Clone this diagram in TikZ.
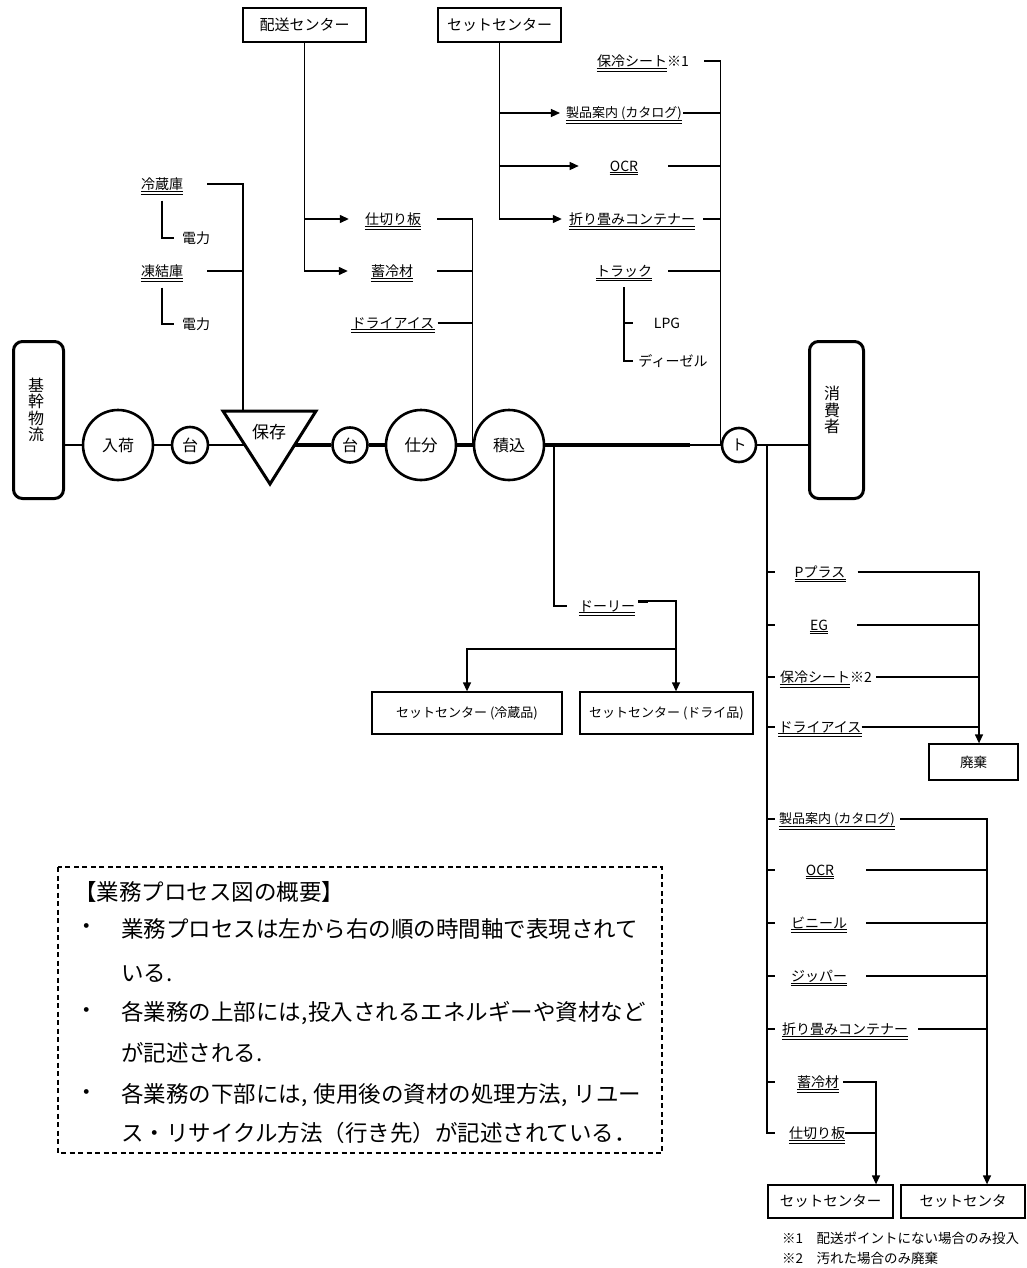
\documentclass[tikz,border=0pt]{standalone}
\usepackage{fontspec}
\setmainfont{Noto Sans CJK JP}
\usetikzlibrary{arrows.meta,calc}
\newcommand{\setfs}[1]{\fontsize{#1}{#1}\selectfont}
\tikzset{
  ul/.style={append after command={
    ([yshift=-0.8pt]\tikzlastnode.south west) edge[draw,line width=0.9pt] ([yshift=-0.8pt]\tikzlastnode.south east)
    ([yshift=-3.4pt]\tikzlastnode.south west) edge[draw,line width=0.9pt] ([yshift=-3.4pt]\tikzlastnode.south east)}},
  lbl/.style={inner sep=0pt, font=\setfs{14}, ul},
  txt/.style={inner sep=0pt, font=\setfs{14}},
  box/.style={draw, line width=1.3pt, inner sep=0pt, font=\setfs{14}},
  proc/.style={circle, draw, line width=2.6pt, inner sep=0pt, font=\setfs{16}},
  endbox/.style={draw, line width=3pt, rounded corners=9pt, inner sep=0pt, minimum width=50pt, minimum height=157pt},
  vtext/.style={inner sep=0pt, align=center, font=\fontsize{16}{16.5}\selectfont},
  conn/.style={line width=1.3pt},
  arr/.style={conn, -{Triangle[length=9pt,width=8pt]}},
  leg/.style={inner sep=0pt, font=\setfs{22.5}, anchor=west},
}
\begin{document}
\begin{tikzpicture}[x=1pt,y=-1pt]
\useasboundingbox (0,0) rectangle (1026,1268);

% ---------- top source boxes ----------
\node[box, font=\setfs{15}, minimum width=123pt, minimum height=34pt] (haiso) at (304.5,25) {配送センター};
\node[box, font=\setfs{15}, minimum width=123pt, minimum height=34pt] (setc) at (499.5,25) {セットセンター};

% ---------- storage inputs ----------
\node[lbl] (reizo) at (162,184) {冷蔵庫};
\node[txt] (den1) at (196,238) {電力};
\node[lbl] (touketsu) at (162,271) {凍結庫};
\node[txt] (den2) at (196,324) {電力};

% ---------- loading inputs ----------
\node[lbl] (shikiri) at (393,219) {仕切り板};
\node[lbl] (chikurei) at (392,271) {蓄冷材};
\node[lbl] (dry1) at (393,323) {ドライアイス};

\node[lbl] (hore1) at (632,61) {保冷シート\rlap{※1}};
\node[lbl, font=\setfs{13}] (seihin1) at (624,113) {製品案内 (カタログ)};
\node[lbl] (ocr1) at (624,166) {OCR};
\node[lbl] (ori1) at (632,219) {折り畳みコンテナー};
\node[lbl] (truck) at (624,271) {トラック};
\node[txt] (lpg) at (667,323) {LPG};
\node[txt] (diesel) at (673,361) {ディーゼル};

% ---------- main flow ----------
\node[endbox] (kikan) at (38.5,420) {};
\node[vtext] (kikanT) at (36,410) {基\\幹\\物\\流};
\node[proc, minimum size=70pt] (nyuka) at (118,445) {入荷};
\node[proc, minimum size=36pt] (dai1) at (190,445) {台};
\draw[line width=3pt, line join=miter] (223,411) -- (316,411) -- (270,484) -- cycle;
\coordinate (triL) at (245,445);
\coordinate (triR) at (295,445);
\coordinate (triT) at (243,411);
\node[inner sep=0pt, font=\setfs{17}] (hozon) at (269,432) {保存};
\node[proc, minimum size=35pt] (dai2) at (350,445) {台};
\node[proc, minimum size=70pt, font=\setfs{16.5}] (shiwake) at (421,445) {仕分};
\node[proc, minimum size=70pt] (tsumi) at (509,445) {積込};
\node[proc, minimum size=34pt, font=\setfs{15}] (to) at (739,445) {ト};
\node[endbox, minimum width=54pt] (shohi) at (836.5,420) {};
\node[vtext] (shohiT) at (832,410) {消\\費\\者};
\coordinate (tj) at (690,445);

\draw[line width=2.5pt] (kikan.east |- nyuka.west) -- (nyuka.west);
\draw[line width=2.5pt] (nyuka.east) -- (dai1.west);
\draw[line width=2.5pt] (dai1.east) -- (triL);
\draw[line width=3.5pt] (triR) -- (dai2.west);
\draw[line width=4pt] (dai2.east) -- (shiwake.west);
\draw[line width=3.5pt] (shiwake.east) -- (tsumi.west);
\draw[line width=3.5pt] (tsumi.east) -- (tj);
\draw[line width=2pt] (tj) -- (to.west);
\draw[line width=2.5pt] (to.east) -- (shohi.west |- to.east);

% ---------- input connectors ----------
\draw[conn] ([xshift=24pt]reizo.east) -| (triT);
\draw[conn] ([xshift=24pt]touketsu.east) -- (touketsu.east -| triT);
\draw[conn] ([yshift=-10pt]reizo.south) |- ([xshift=-8pt]den1.west);
\draw[conn] ([yshift=-10pt]touketsu.south) |- ([xshift=-8pt]den2.west);

\draw[conn] (haiso.south) -- (haiso.south |- chikurei);
\draw[arr] (haiso.south) |- ([xshift=-16pt]shikiri.west);
\draw[arr] (haiso.south) |- ([xshift=-23pt]chikurei.west);
\draw[conn] ([xshift=16pt]shikiri.east) -| (tsumi.west);
\draw[conn] ([xshift=24pt]chikurei.east) -- (chikurei.east -| tsumi.west);
\draw[conn] ([xshift=3pt]dry1.east) -- (dry1.east -| tsumi.west);

\draw[conn] (setc.south) -- (setc.south |- ori1);
\draw[arr] (setc.south) |- ([xshift=-6pt]seihin1.west);
\draw[arr] (setc.south) |- ([xshift=-31pt]ocr1.west);
\draw[arr] (setc.south) |- ([xshift=-7pt]ori1.west);
\draw[conn] ([xshift=37pt]hore1.east) -| (to.west);
\draw[conn] ([xshift=1pt]seihin1.east) -- (seihin1.east -| to.west);
\draw[conn] ([xshift=30pt]ocr1.east) -- (ocr1.east -| to.west);
\draw[conn] ([xshift=8pt]ori1.east) -- (ori1.east -| to.west);
\draw[conn] ([xshift=16pt]truck.east) -- (truck.east -| to.west);
\draw[conn] ([yshift=-10pt]truck.south) |- ([xshift=-5pt]diesel.west);
\draw[conn] (truck.south |- lpg) -- ([xshift=-21pt]lpg.west);

% ---------- dolly branch ----------
\node[lbl] (dolly) at (607,606) {ドーリー};
\node[box, font=\setfs{13}, minimum width=190pt, minimum height=42pt] (box1) at (467,713) {セットセンター (冷蔵品)};
\node[box, font=\setfs{13}, minimum width=173pt, minimum height=42pt] (box2) at (666.5,713) {セットセンター (ドライ品)};
\coordinate (dj) at (676,649);
\coordinate (tsumiB) at (554,445);
\draw[conn] (tsumiB) |- ([xshift=-12pt]dolly.west);
\draw[line width=3pt] ([shift={(3,-5)}]dolly.east) -- ([shift={(13,-5)}]dolly.east);
\draw[arr] ([shift={(13,-5)}]dolly.east) -| ([xshift=9.5pt]box2.north);
\draw[arr] (dj) -| (box1.north);

% ---------- outputs after delivery ----------
\coordinate (toB) at (767,445);
\draw[conn] (toB) -- (767,1133) -- (775,1133);
\foreach \yy in {572,625,677,727,819,870,923,976,1029,1082}{
  \draw[conn] (767,\yy) -- (775,\yy);
}
\coordinate (colA) at (979,0);
\coordinate (colB) at (987,0);
\coordinate (colC) at (876,0);

\node[lbl] (pplus) at (820,572) {Pプラス};
\node[lbl] (eg) at (819,625) {EG};
\node[lbl] (hore2) at (815,677) {保冷シート\rlap{※2}};
\node[lbl] (dry2) at (820,727) {ドライアイス};
\node[box, font=\setfs{13.5}, minimum width=89pt, minimum height=36pt] (haiki) at (973.5,762) {廃棄};
\draw[arr] ([xshift=12pt]pplus.east) -| ([xshift=5.5pt]haiki.north);
\draw[conn] ([xshift=29pt]eg.east) -- (eg.east -| colA);
\draw[conn] ([xshift=26pt]hore2.east) -- (hore2.east -| colA);
\draw[conn] (dry2.east) -- (dry2.east -| colA);

\node[lbl, font=\setfs{13}] (seihin2) at (837,819) {製品案内 (カタログ)};
\node[lbl] (ocr2) at (820,870) {OCR};
\node[lbl] (vinyl) at (819,923) {ビニール};
\node[lbl] (zipper) at (819,976) {ジッパー};
\node[lbl] (ori2) at (845,1029) {折り畳みコンテナー};
\node[lbl] (chikurei2) at (818,1082) {蓄冷材};
\node[lbl] (shikiri2) at (817,1133) {仕切り板};
\node[box, font=\setfs{14.5}, minimum width=125pt, minimum height=33pt] (set3) at (830.5,1201.5) {セットセンター};
\node[box, font=\setfs{14.5}, minimum width=124pt, minimum height=33pt] (set4) at (963,1201.5) {セットセンタ};

\draw[arr] ([xshift=5pt]seihin2.east) -| ([xshift=24pt]set4.north);
\draw[conn] ([xshift=32pt]ocr2.east) -- (ocr2.east -| colB);
\draw[conn] ([xshift=19pt]vinyl.east) -- (vinyl.east -| colB);
\draw[conn] ([xshift=19pt]zipper.east) -- (zipper.east -| colB);
\draw[conn] ([xshift=10pt]ori2.east) -- (ori2.east -| colB);
\draw[arr] ([xshift=4pt]chikurei2.east) -| ([xshift=45.5pt]set3.north);
\draw[conn] (shikiri2.east) -- (shikiri2.east -| colC);

\node[inner sep=0pt, font=\setfs{13.5}, anchor=west] (note1) at (782,1238) {※1　配送ポイントにない場合のみ投入};
\node[inner sep=0pt, font=\setfs{13.5}, anchor=west] (note2) at (782,1258) {※2　汚れた場合のみ廃棄};

% ---------- legend ----------
\draw[line width=1.3pt, dash pattern=on 5pt off 3.5pt] (58,867) rectangle (662,1153);
\node[leg] (legT) at (74,892) {【業務プロセス図の概要】};
\node[leg, anchor=center] (b1) at (87,929) {・};
\node[leg, anchor=center] (b2) at (87,1013) {・};
\node[leg, anchor=center] (b3) at (87,1095) {・};
\node[leg] (l1) at (121,929) {業務プロセスは左から右の順の時間軸で表現されて};
\node[leg] (l2) at (121,973) {いる.};
\node[leg] (l3) at (121,1013) {各業務の上部には,\hspace{1pt}投入されるエネルギーや資材など};
\node[leg] (l4) at (121,1053) {が記述される.};
\node[leg] (l5) at (121,1095) {\makebox[520pt][s]{各業務の下部には,\hspace{3pt plus 1fil minus 3pt}使用後の資材の処理方法,\hspace{3pt plus 1fil minus 3pt}リユー}};
\node[leg] (l6) at (121,1133) {ス・リサイクル方法（行き先）が記述されている．};
\end{tikzpicture}
\end{document}
